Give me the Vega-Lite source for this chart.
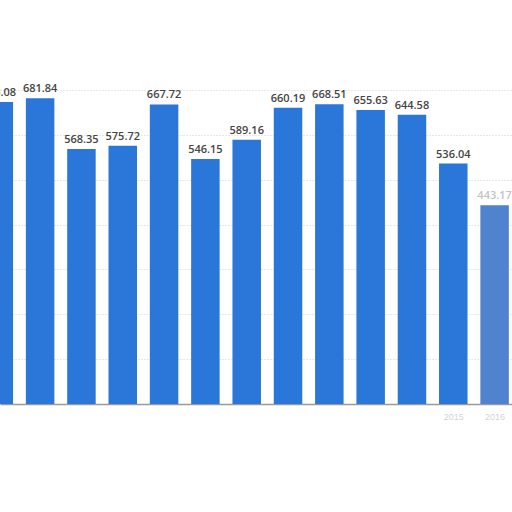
{
  "$schema": "https://vega.github.io/schema/vega-lite/v6.json",
  "width": 512,
  "height": 314,
  "autosize": {"type": "none"},
  "padding": {"top": 90, "left": 0, "right": 0, "bottom": 108},
  "background": "white",
  "config": {"view": {"stroke": null}},
  "data": {
    "values": [
      {"year": 2004, "value": 673.08},
      {"year": 2005, "value": 681.84},
      {"year": 2006, "value": 568.35},
      {"year": 2007, "value": 575.72},
      {"year": 2008, "value": 667.72},
      {"year": 2009, "value": 546.15},
      {"year": 2010, "value": 589.16},
      {"year": 2011, "value": 660.19},
      {"year": 2012, "value": 668.51},
      {"year": 2013, "value": 655.63},
      {"year": 2014, "value": 644.58},
      {"year": 2015, "value": 536.04},
      {"year": 2016, "value": 443.17}
    ]
  },
  "encoding": {
    "x": {
      "field": "year",
      "type": "quantitative",
      "scale": {"domain": [2004.15, 2016.3], "nice": false, "zero": false},
      "axis": {
        "values": [2015, 2016],
        "format": "d",
        "title": null,
        "grid": false,
        "ticks": false,
        "domainColor": "#9a9a9a",
        "domainWidth": 1.5,
        "labelColor": "#d4d4d4",
        "labelFontSize": 9,
        "labelPadding": 8
      }
    },
    "y": {
      "field": "value",
      "type": "quantitative",
      "scale": {"domain": [0, 700], "nice": false},
      "axis": {
        "title": null,
        "labels": false,
        "ticks": false,
        "domain": false,
        "tickCount": 7,
        "gridColor": "#d0d0d0",
        "gridDash": [1, 2],
        "gridWidth": 1
      }
    }
  },
  "layer": [
    {
      "mark": {"type": "bar", "width": 28.5, "clip": true},
      "encoding": {
        "color": {"condition": {"test": "datum.year == 2016", "value": "#4f82cf"}, "value": "#2b76d9"}
      }
    },
    {
      "mark": {
        "type": "text",
        "baseline": "bottom",
        "dy": -4,
        "font": "Open Sans",
        "fontSize": 11,
        "fontWeight": 600
      },
      "encoding": {
        "text": {"field": "value", "type": "quantitative", "format": ".2f"},
        "color": {"condition": {"test": "datum.year == 2016", "value": "#c4c4c4"}, "value": "#444444"}
      }
    }
  ]
}
